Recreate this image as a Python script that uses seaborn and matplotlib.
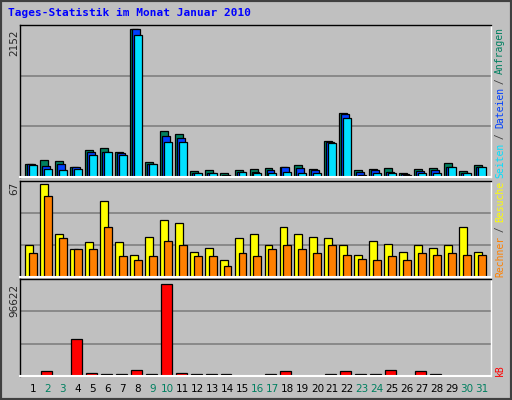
import matplotlib
matplotlib.use("Agg")
import matplotlib.pyplot as plt
import seaborn as sns
import numpy as np

days = list(range(1, 32))
hits = [190,249,234,146,395,425,366,2152,220,673,630,88,102,59,102,117,132,146,176,117,527,937,102,117,132,59,117,132,205,88,176]
files = [190,161,190,146,366,366,351,2152,190,600,571,59,59,29,73,73,102,146,132,102,512,922,73,102,73,44,88,102,146,59,146]
pages = [176,117,102,117,322,366,322,2064,190,512,512,59,59,15,73,59,59,73,59,59,498,864,29,59,59,29,59,59,146,59,146]
visits = [23,67,31,20,25,55,25,16,29,41,39,18,21,12,28,31,23,36,31,29,28,23,16,26,24,18,23,21,23,36,18]
hosts = [17,58,28,20,20,36,15,12,15,26,23,15,15,8,17,15,20,23,20,17,23,16,13,12,15,12,17,16,17,16,16]
kbytes = [300,4900,300,38900,3500,2600,2600,6000,2600,96622,3500,2600,2600,2600,300,300,2600,4900,300,300,2600,4900,2600,2600,6000,300,4900,2600,300,300,300]
weekend = [2,3,9,10,16,17,23,24,30,31]
title = "Tages-Statistik im Monat Januar 2010"

sns.set_theme(style="white")
plt.rcParams['font.family'] = ['DejaVu Sans Mono', 'DejaVu Sans']

BG = "#C0C0C0"
fig = plt.figure(figsize=(5.12, 4.0), dpi=100, facecolor=BG)
W, H = 512, 400
def box(l, t, r, b):
    return [l / W, 1 - b / H, (r - l) / W, (b - t) / H]

ax1 = fig.add_axes(box(20, 25, 491, 177))
ax2 = fig.add_axes(box(20, 181, 491, 277))
ax3 = fig.add_axes(box(20, 279, 491, 376))
d = np.array(days)
ec = dict(edgecolor="black", linewidth=0.9, align="edge")
w = 0.53
ax1.bar(d - 0.53, hits, w, color="#008060", **ec)
ax1.bar(d - 0.40, files, w, color="#0040FF", **ec)
ax1.bar(d - 0.27, pages, w, color="#00E0FF", **ec)
ax2.bar(d - 0.53, visits, w, color="#FFFF00", **ec)
ax2.bar(d - 0.27, hosts, w, color="#FF8000", **ec)
ax3.bar(d - 0.47, kbytes, 0.73, color="#FF0000", **ec)

for ax, mx, fr in [(ax1, max(hits), 152 / 148), (ax2, max(visits), 96 / 93), (ax3, max(kbytes), 97 / 92)]:
    ax.set_facecolor(BG)
    top = mx * fr
    ax.set_ylim(0, top)
    ax.set_xlim(0.13, 31.6)
    for f in (1 / 3, 2 / 3):
        ax.axhline(top * f, color="#808080", lw=1.2, zorder=0)
    ax.set_yticks([])
    for s in ax.spines.values():
        s.set_color("black"); s.set_linewidth(1)
    ax.spines["right"].set_color("white")
    ax.spines["bottom"].set_color("white")
    ax.spines["bottom"].set_linewidth(1.5)
    ax.set_xticks([])

ax3.set_xticks(days)
ax3.set_xticklabels([str(x) for x in days], fontsize=7.5, family="DejaVu Sans")
for lab, x in zip(ax3.get_xticklabels(), days):
    lab.set_color("#008060" if x in weekend else "black")
ax3.tick_params(axis="x", length=0, pad=6)

fig.text(8 / W, 1 - 13 / H, title, color="#0000FF", fontsize=8, weight="bold", va="center")
for y, s in [(30, str(max(hits))), (182, str(max(visits))), (284, str(max(kbytes)))]:
    fig.text(14 / W, 1 - y / H, s, rotation=90, fontsize=7.5, family="DejaVu Sans", va="top", ha="center")

parts = [("Rechner", "#FF8000"), (" / ", "#404040"), ("Besuche", "#FFFF00"), (" ", "#404040"),
         ("Seiten", "#00E0FF"), (" / ", "#404040"), ("Dateien", "#0040FF"), (" / ", "#404040"),
         ("Anfragen", "#008060")]
cw = 5.5
y = 277
for s, c in parts:
    fig.text(500 / W, 1 - y / H, s, rotation=90, color=c, fontsize=7.0, va="bottom", ha="center")
    y -= cw * len(s)
fig.text(500 / W, 1 - 376 / H, "kB", rotation=90, color="#FF0000", fontsize=7.0, va="bottom", ha="center")

fig.patches.append(plt.Rectangle((0, 0), 1, 1, transform=fig.transFigure, fill=False,
                                 edgecolor="#404040", lw=3))
fig.savefig("out.png", dpi=100, facecolor=BG)
